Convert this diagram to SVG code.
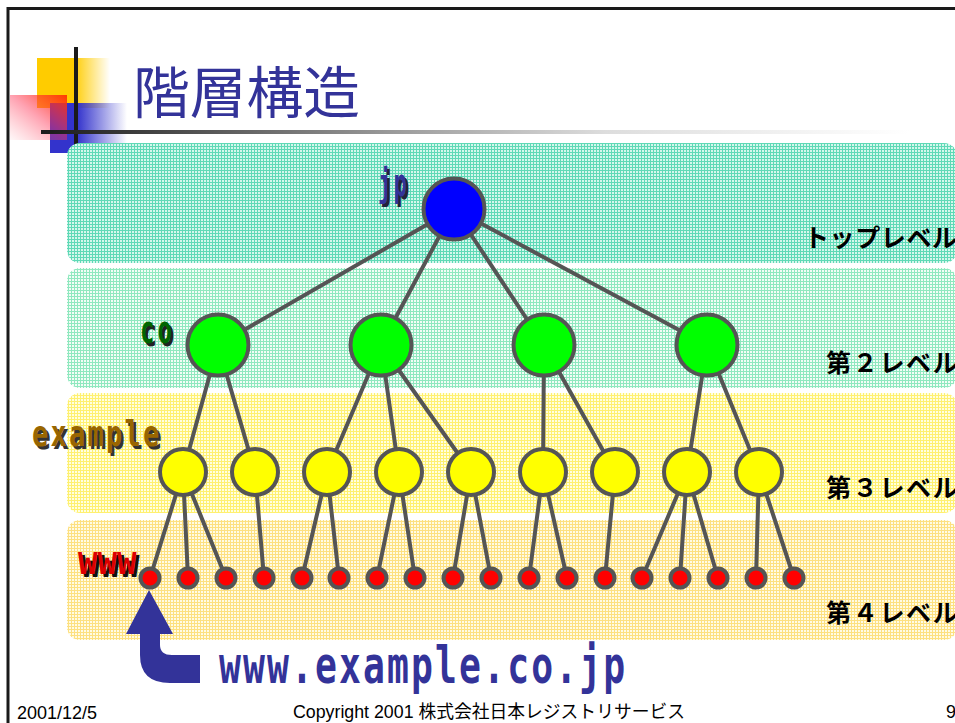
<svg xmlns="http://www.w3.org/2000/svg" width="955" height="723" viewBox="0 0 955 723">
<defs>
  <pattern id="pat1" width="3" height="3" patternUnits="userSpaceOnUse"><rect width="3" height="3" fill="#5fd9b6"/><rect width="2" height="2" fill="#d4f7ec"/></pattern>
  <pattern id="pat2" width="3" height="3" patternUnits="userSpaceOnUse"><rect width="3" height="3" fill="#8fe8bf"/><rect width="2" height="2" fill="#f2fdf6"/></pattern>
  <pattern id="pat3" width="3" height="3" patternUnits="userSpaceOnUse"><rect width="3" height="3" fill="#fff070"/><rect width="2" height="2" fill="#ffffe0"/></pattern>
  <pattern id="pat4" width="3" height="3" patternUnits="userSpaceOnUse"><rect width="3" height="3" fill="#fde080"/><rect width="2" height="2" fill="#fffbe4"/></pattern>
  <linearGradient id="gYel" x1="0" y1="0" x2="1" y2="0">
    <stop offset="0" stop-color="#ffcc00"/><stop offset="0.5" stop-color="#ffcc00"/><stop offset="1" stop-color="#ffcc00" stop-opacity="0"/>
  </linearGradient>
  <linearGradient id="gBlue" x1="0" y1="0" x2="1" y2="0">
    <stop offset="0" stop-color="#3333cc"/><stop offset="0.35" stop-color="#3333cc"/><stop offset="1" stop-color="#3333cc" stop-opacity="0"/>
  </linearGradient>
  <linearGradient id="gRed" x1="1" y1="0" x2="0" y2="1">
    <stop offset="0" stop-color="#ff3300" stop-opacity="0.95"/><stop offset="0.5" stop-color="#ff3355" stop-opacity="0.45"/><stop offset="1" stop-color="#ff6677" stop-opacity="0.05"/>
  </linearGradient>
  <linearGradient id="gRule" gradientUnits="userSpaceOnUse" x1="41" y1="0" x2="910" y2="0">
    <stop offset="0" stop-color="#1a1a1a"/><stop offset="0.4" stop-color="#999999"/><stop offset="0.65" stop-color="#dddddd"/><stop offset="1" stop-color="#ffffff"/>
  </linearGradient>
  <style>
    .band{stroke:none}
    .edge{stroke:#555555;stroke-width:4;stroke-linecap:round;fill:none}
    .node{stroke:#555555;stroke-width:4}
    .blue{fill:#0000ff}.green{fill:#00ff00}.yellow{fill:#ffff00}.red{fill:#ff0000}
    .lvl{font-family:"Noto Sans CJK JP","Noto Sans CJK SC",sans-serif;font-weight:700;font-size:25px;fill:#000}
    .mono{font-family:"DejaVu Sans Mono","Liberation Mono",monospace;font-weight:700}
    .foot{font-family:"Liberation Sans","Noto Sans CJK JP",sans-serif;font-size:18px;fill:#000}
  </style>
</defs>
<rect width="955" height="723" fill="#ffffff"/>
<!-- slide border -->
<path d="M8,723 V8.5 H955" fill="none" stroke="#1a1a1a" stroke-width="3"/>
<!-- logo -->
<g id="logo">
  <rect x="37" y="58" width="73" height="50" fill="url(#gYel)"/>
  <rect x="50" y="103" width="77" height="50" fill="url(#gBlue)"/>
  <rect x="10" y="95" width="57" height="45" fill="url(#gRed)"/>
  <rect x="74" y="47" width="4" height="106" fill="#1a1a1a"/>
  <rect x="41" y="130" width="910" height="4" fill="url(#gRule)"/>
</g>
<text x="133" y="113" font-family="'Noto Sans CJK JP','Noto Sans CJK SC',sans-serif" font-size="56" fill="#333399" textLength="227" lengthAdjust="spacingAndGlyphs">階層構造</text>
<!-- bands -->
<g id="bands">
  <rect class="band" x="67" y="143" width="890" height="120" rx="13" fill="url(#pat1)"/>
  <rect class="band" x="67" y="268" width="890" height="120" rx="13" fill="url(#pat2)"/>
  <rect class="band" x="67" y="393" width="890" height="120" rx="13" fill="url(#pat3)"/>
  <rect class="band" x="67" y="520" width="890" height="120" rx="13" fill="url(#pat4)"/>
</g>
<g id="level-labels">
  <text class="lvl" x="804" y="247" letter-spacing="0.6">トップレベル</text>
  <text class="lvl" x="826" y="372" letter-spacing="1.7">第２レベル</text>
  <text class="lvl" x="826" y="497" letter-spacing="1.7">第３レベル</text>
  <text class="lvl" x="826" y="622" letter-spacing="1.7">第４レベル</text>
</g>
<!-- connectors -->
<g id="connectors" class="edge">
  <line x1="454" y1="209" x2="218" y2="345"/>
  <line x1="454" y1="209" x2="381" y2="345"/>
  <line x1="454" y1="209" x2="544" y2="345"/>
  <line x1="454" y1="209" x2="707" y2="345"/>
  <line x1="218" y1="345" x2="183" y2="472"/>
  <line x1="218" y1="345" x2="255" y2="472"/>
  <line x1="381" y1="345" x2="327" y2="472"/>
  <line x1="381" y1="345" x2="399" y2="472"/>
  <line x1="381" y1="345" x2="471" y2="472"/>
  <line x1="544" y1="345" x2="543" y2="472"/>
  <line x1="544" y1="345" x2="615" y2="472"/>
  <line x1="707" y1="345" x2="687" y2="472"/>
  <line x1="707" y1="345" x2="759" y2="472"/>
  <line x1="183" y1="472" x2="150" y2="578"/>
  <line x1="183" y1="472" x2="188" y2="578"/>
  <line x1="183" y1="472" x2="226" y2="578"/>
  <line x1="255" y1="472" x2="264" y2="578"/>
  <line x1="327" y1="472" x2="302" y2="578"/>
  <line x1="327" y1="472" x2="339" y2="578"/>
  <line x1="399" y1="472" x2="377" y2="578"/>
  <line x1="399" y1="472" x2="415" y2="578"/>
  <line x1="471" y1="472" x2="453" y2="578"/>
  <line x1="471" y1="472" x2="491" y2="578"/>
  <line x1="543" y1="472" x2="529" y2="578"/>
  <line x1="543" y1="472" x2="567" y2="578"/>
  <line x1="615" y1="472" x2="605" y2="578"/>
  <line x1="687" y1="472" x2="642" y2="578"/>
  <line x1="687" y1="472" x2="680" y2="578"/>
  <line x1="687" y1="472" x2="718" y2="578"/>
  <line x1="759" y1="472" x2="756" y2="578"/>
  <line x1="759" y1="472" x2="794" y2="578"/>
</g>
<!-- nodes -->
<g id="node-jp"><circle class="node blue" cx="454" cy="209" r="30.5"/></g>
<g id="node-co1"><circle class="node green" cx="218" cy="345" r="30.5"/></g>
<g id="node-co2"><circle class="node green" cx="381" cy="345" r="30.5"/></g>
<g id="node-co3"><circle class="node green" cx="544" cy="345" r="30.5"/></g>
<g id="node-co4"><circle class="node green" cx="707" cy="345" r="30.5"/></g>
<g id="node-y1"><circle class="node yellow" cx="183" cy="472" r="23"/></g>
<g id="node-y2"><circle class="node yellow" cx="255" cy="472" r="23"/></g>
<g id="node-y3"><circle class="node yellow" cx="327" cy="472" r="23"/></g>
<g id="node-y4"><circle class="node yellow" cx="399" cy="472" r="23"/></g>
<g id="node-y5"><circle class="node yellow" cx="471" cy="472" r="23"/></g>
<g id="node-y6"><circle class="node yellow" cx="543" cy="472" r="23"/></g>
<g id="node-y7"><circle class="node yellow" cx="615" cy="472" r="23"/></g>
<g id="node-y8"><circle class="node yellow" cx="687" cy="472" r="23"/></g>
<g id="node-y9"><circle class="node yellow" cx="759" cy="472" r="23"/></g>
<g id="node-r1"><circle class="node red" cx="150" cy="578" r="9.5"/></g>
<g id="node-r2"><circle class="node red" cx="188" cy="578" r="9.5"/></g>
<g id="node-r3"><circle class="node red" cx="226" cy="578" r="9.5"/></g>
<g id="node-r4"><circle class="node red" cx="264" cy="578" r="9.5"/></g>
<g id="node-r5"><circle class="node red" cx="302" cy="578" r="9.5"/></g>
<g id="node-r6"><circle class="node red" cx="339" cy="578" r="9.5"/></g>
<g id="node-r7"><circle class="node red" cx="377" cy="578" r="9.5"/></g>
<g id="node-r8"><circle class="node red" cx="415" cy="578" r="9.5"/></g>
<g id="node-r9"><circle class="node red" cx="453" cy="578" r="9.5"/></g>
<g id="node-r10"><circle class="node red" cx="491" cy="578" r="9.5"/></g>
<g id="node-r11"><circle class="node red" cx="529" cy="578" r="9.5"/></g>
<g id="node-r12"><circle class="node red" cx="567" cy="578" r="9.5"/></g>
<g id="node-r13"><circle class="node red" cx="605" cy="578" r="9.5"/></g>
<g id="node-r14"><circle class="node red" cx="642" cy="578" r="9.5"/></g>
<g id="node-r15"><circle class="node red" cx="680" cy="578" r="9.5"/></g>
<g id="node-r16"><circle class="node red" cx="718" cy="578" r="9.5"/></g>
<g id="node-r17"><circle class="node red" cx="756" cy="578" r="9.5"/></g>
<g id="node-r18"><circle class="node red" cx="794" cy="578" r="9.5"/></g>
<!-- node name labels -->
<g id="label-jp" class="mono" font-size="37" letter-spacing="3.5">
  <text transform="translate(380.5,198.5) scale(0.6,1)" fill="#22223a">jp</text>
  <text transform="translate(378,196) scale(0.6,1)" fill="#333399">jp</text>
</g>
<g id="label-co" class="mono" font-size="37" letter-spacing="4.5">
  <text transform="translate(142.5,345.5) scale(0.65,1)" fill="#222222">co</text>
  <text transform="translate(140,343) scale(0.65,1)" fill="#006600">co</text>
</g>
<g id="label-example" class="mono" font-size="36" letter-spacing="3">
  <text transform="translate(34.5,448.5) scale(0.75,1)" fill="#333333">example</text>
  <text transform="translate(32,446) scale(0.75,1)" fill="#996600">example</text>
</g>
<g id="label-www" class="mono" font-size="41">
  <text transform="translate(81,577) scale(0.79,1)" fill="#111111">www</text>
  <text transform="translate(78,574) scale(0.79,1)" fill="#dd0000">www</text>
</g>
<!-- pointer arrow and full name -->
<g id="pointer">
  <path d="M149,590 L173,634 L160,634 L160,645 Q160,655 172,655 L200,655 L200,683 L170,683 Q140,683 140,655 L140,634 L126,634 Z" fill="#333399"/>
  <text class="mono" font-size="52" letter-spacing="3" transform="translate(219,683) scale(0.7,1)" fill="#333399">www.example.co.jp</text>
</g>
<!-- footer -->
<g id="footer">
  <text class="foot" x="17" y="719">2001/12/5</text>
  <text class="foot" x="293" y="718" textLength="392" lengthAdjust="spacingAndGlyphs">Copyright 2001 株式会社日本レジストリサービス</text>
  <text class="foot" x="946" y="718">9</text>
</g>
</svg>
